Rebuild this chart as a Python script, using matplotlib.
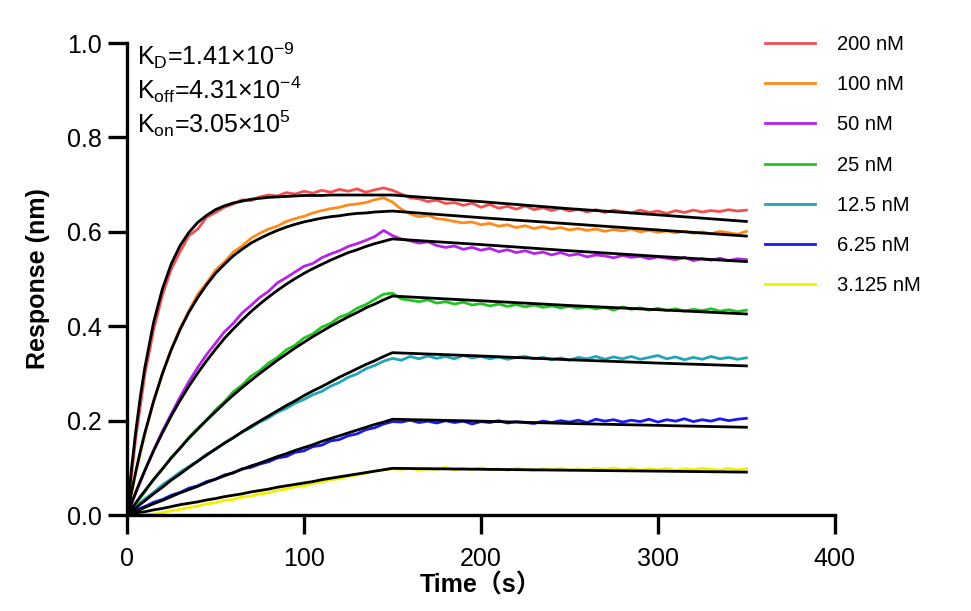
import numpy as np
import matplotlib.pyplot as plt

plt.rcParams['font.family'] = ['Liberation Sans', 'Noto Sans CJK SC', 'DejaVu Sans']
plt.rcParams['mathtext.fontset'] = 'custom'
plt.rcParams['mathtext.rm'] = 'Liberation Sans'

# measured curves, one point every 5 s
t_data = np.arange(0, 351, 5)

r_200 = [0.000, 0.165, 0.296, 0.392, 0.466, 0.521, 0.558, 0.592, 0.606, 0.631, 0.641, 0.652, 0.659, 0.668, 0.666,
         0.674, 0.678, 0.676, 0.683, 0.680, 0.686, 0.682, 0.688, 0.684, 0.690, 0.686, 0.691, 0.684, 0.689, 0.693,
         0.688, 0.680, 0.672, 0.670, 0.664, 0.667, 0.660, 0.662, 0.656, 0.661, 0.652, 0.658, 0.650, 0.654, 0.648,
         0.655, 0.647, 0.651, 0.645, 0.650, 0.644, 0.648, 0.642, 0.647, 0.641, 0.646, 0.643, 0.640, 0.646, 0.641,
         0.644, 0.639, 0.645, 0.641, 0.646, 0.642, 0.645, 0.643, 0.647, 0.644, 0.646]
r_100 = [0.000, 0.090, 0.170, 0.240, 0.298, 0.352, 0.396, 0.433, 0.468, 0.492, 0.519, 0.536, 0.557, 0.570, 0.586,
         0.597, 0.606, 0.612, 0.622, 0.628, 0.633, 0.640, 0.645, 0.649, 0.652, 0.657, 0.659, 0.662, 0.668, 0.672,
         0.663, 0.648, 0.638, 0.632, 0.635, 0.628, 0.626, 0.622, 0.619, 0.621, 0.615, 0.618, 0.612, 0.615, 0.609,
         0.613, 0.607, 0.611, 0.606, 0.609, 0.604, 0.607, 0.603, 0.606, 0.601, 0.605, 0.602, 0.606, 0.600, 0.603,
         0.599, 0.602, 0.598, 0.601, 0.597, 0.600, 0.596, 0.601, 0.598, 0.595, 0.601]
r_50 = [0.000, 0.047, 0.093, 0.137, 0.178, 0.214, 0.250, 0.283, 0.313, 0.340, 0.364, 0.388, 0.406, 0.428, 0.444,
        0.461, 0.474, 0.492, 0.503, 0.515, 0.527, 0.533, 0.545, 0.553, 0.560, 0.569, 0.575, 0.582, 0.590, 0.603,
        0.592, 0.585, 0.581, 0.576, 0.579, 0.571, 0.567, 0.570, 0.563, 0.567, 0.561, 0.565, 0.558, 0.562, 0.556,
        0.560, 0.554, 0.557, 0.551, 0.556, 0.550, 0.553, 0.547, 0.551, 0.549, 0.545, 0.550, 0.546, 0.548, 0.543,
        0.547, 0.544, 0.541, 0.546, 0.539, 0.543, 0.540, 0.544, 0.539, 0.543, 0.541]
r_25 = [0.000, 0.024, 0.049, 0.076, 0.097, 0.122, 0.141, 0.165, 0.184, 0.202, 0.223, 0.240, 0.261, 0.275, 0.294,
        0.306, 0.322, 0.334, 0.350, 0.360, 0.375, 0.384, 0.398, 0.406, 0.419, 0.426, 0.438, 0.446, 0.457, 0.468,
        0.470, 0.458, 0.455, 0.452, 0.456, 0.449, 0.452, 0.447, 0.451, 0.445, 0.448, 0.443, 0.447, 0.442, 0.446,
        0.441, 0.445, 0.440, 0.443, 0.439, 0.442, 0.438, 0.441, 0.437, 0.440, 0.434, 0.441, 0.436, 0.439, 0.434,
        0.438, 0.433, 0.437, 0.432, 0.436, 0.433, 0.437, 0.432, 0.435, 0.431, 0.434]
r_12 = [0.000, 0.018, 0.034, 0.048, 0.064, 0.077, 0.091, 0.103, 0.115, 0.129, 0.139, 0.153, 0.163, 0.176, 0.185,
        0.197, 0.206, 0.218, 0.226, 0.237, 0.245, 0.255, 0.262, 0.273, 0.281, 0.292, 0.299, 0.310, 0.317, 0.326,
        0.332, 0.328, 0.336, 0.331, 0.337, 0.332, 0.336, 0.331, 0.338, 0.333, 0.336, 0.331, 0.335, 0.330, 0.334,
        0.336, 0.331, 0.334, 0.329, 0.333, 0.328, 0.334, 0.331, 0.336, 0.330, 0.335, 0.331, 0.336, 0.330, 0.334,
        0.338, 0.331, 0.335, 0.329, 0.334, 0.330, 0.336, 0.331, 0.334, 0.330, 0.333]
r_6 = [0.000, 0.011, 0.018, 0.027, 0.033, 0.042, 0.048, 0.057, 0.062, 0.071, 0.076, 0.085, 0.089, 0.098, 0.101,
       0.108, 0.113, 0.121, 0.124, 0.133, 0.136, 0.145, 0.148, 0.157, 0.160, 0.168, 0.172, 0.181, 0.185, 0.193,
       0.198, 0.197, 0.201, 0.196, 0.199, 0.195, 0.200, 0.196, 0.199, 0.193, 0.198, 0.196, 0.200, 0.195, 0.198,
       0.196, 0.194, 0.199, 0.196, 0.200, 0.197, 0.201, 0.196, 0.203, 0.199, 0.202, 0.197, 0.201, 0.198, 0.203,
       0.197, 0.202, 0.199, 0.204, 0.198, 0.202, 0.199, 0.204, 0.200, 0.203, 0.205]
r_3 = [0.000, 0.000, 0.001, 0.002, 0.005, 0.009, 0.012, 0.016, 0.019, 0.024, 0.026, 0.031, 0.033, 0.038, 0.040,
       0.045, 0.047, 0.052, 0.055, 0.060, 0.062, 0.067, 0.070, 0.075, 0.077, 0.082, 0.085, 0.089, 0.093, 0.096,
       0.098, 0.097, 0.099, 0.096, 0.098, 0.097, 0.101, 0.096, 0.099, 0.097, 0.100, 0.096, 0.098, 0.095, 0.099,
       0.097, 0.094, 0.098, 0.096, 0.099, 0.095, 0.098, 0.096, 0.099, 0.097, 0.100, 0.096, 0.099, 0.095, 0.098,
       0.096, 0.099, 0.095, 0.098, 0.096, 0.099, 0.097, 0.095, 0.099, 0.096, 0.098]

# fitted curves
t_fit = [0, 2.5, 5, 7.5, 10, 15, 20, 25, 30, 35, 40, 45, 50, 55, 60, 65, 70, 75, 80, 85, 90, 95, 100,
         105, 110, 115, 120, 125, 130, 135, 140, 145, 150, 200, 250, 300, 350]
f_200 = [0, 0.097, 0.179, 0.250, 0.311, 0.408, 0.479, 0.532, 0.571, 0.599, 0.620, 0.635, 0.647, 0.655, 0.661,
         0.665, 0.669, 0.671, 0.673, 0.674, 0.675, 0.676, 0.677, 0.677, 0.677, 0.678, 0.678, 0.678, 0.678, 0.678,
         0.678, 0.678, 0.678, 0.664, 0.649, 0.636, 0.622]
f_100 = [0, 0.048, 0.093, 0.135, 0.173, 0.241, 0.300, 0.350, 0.393, 0.430, 0.461, 0.488, 0.512, 0.531, 0.549,
         0.563, 0.576, 0.586, 0.595, 0.603, 0.610, 0.616, 0.621, 0.625, 0.629, 0.632, 0.634, 0.637, 0.639, 0.640,
         0.642, 0.643, 0.644, 0.630, 0.617, 0.604, 0.591]
f_50 = [0, 0.025, 0.049, 0.072, 0.094, 0.136, 0.174, 0.210, 0.243, 0.273, 0.301, 0.327, 0.351, 0.374, 0.394,
        0.413, 0.431, 0.447, 0.462, 0.476, 0.489, 0.501, 0.512, 0.522, 0.531, 0.540, 0.548, 0.556, 0.562, 0.569,
        0.575, 0.580, 0.585, 0.573, 0.560, 0.548, 0.537]
f_25 = [0, 0.013, 0.026, 0.039, 0.051, 0.075, 0.098, 0.121, 0.142, 0.163, 0.182, 0.201, 0.219, 0.237, 0.254,
        0.270, 0.285, 0.300, 0.314, 0.328, 0.341, 0.354, 0.366, 0.378, 0.389, 0.400, 0.410, 0.420, 0.429, 0.439,
        0.447, 0.456, 0.464, 0.454, 0.444, 0.435, 0.426]
f_12 = [0, 0.008, 0.015, 0.023, 0.030, 0.045, 0.059, 0.074, 0.087, 0.101, 0.114, 0.127, 0.140, 0.152, 0.164,
        0.176, 0.188, 0.199, 0.210, 0.221, 0.232, 0.242, 0.253, 0.263, 0.272, 0.282, 0.292, 0.301, 0.310, 0.319,
        0.327, 0.336, 0.344, 0.337, 0.329, 0.322, 0.316]
f_6 = [0, 0.004, 0.008, 0.012, 0.016, 0.024, 0.031, 0.039, 0.047, 0.054, 0.061, 0.069, 0.076, 0.083, 0.090,
       0.097, 0.104, 0.110, 0.117, 0.124, 0.130, 0.137, 0.143, 0.149, 0.156, 0.162, 0.168, 0.174, 0.180, 0.186,
       0.192, 0.197, 0.203, 0.199, 0.194, 0.190, 0.186]
f_3 = [0, 0.002, 0.004, 0.006, 0.007, 0.011, 0.014, 0.018, 0.022, 0.025, 0.028, 0.032, 0.035, 0.039, 0.042,
       0.045, 0.049, 0.052, 0.055, 0.059, 0.062, 0.065, 0.068, 0.071, 0.075, 0.078, 0.081, 0.084, 0.087, 0.090,
       0.093, 0.096, 0.099, 0.097, 0.095, 0.093, 0.091]

labels = ['200 nM', '100 nM', '50 nM', '25 nM', '12.5 nM', '6.25 nM', '3.125 nM']
colors = ['#F25050', '#FF8A1C', '#B424E6', '#22C422', '#22A5B5', '#1818F0', '#F2F000']
data = [r_200, r_100, r_50, r_25, r_12, r_6, r_3]
fits = [f_200, f_100, f_50, f_25, f_12, f_6, f_3]

fig = plt.figure(figsize=(9.71, 6.11), dpi=100)
ax = fig.add_axes([0.1308, 0.157, 0.729, 0.7726])

for y, c, lab in zip(data, colors, labels):
    ax.plot(t_data, y, color=c, lw=2.0, label=lab)
for f in fits:
    ax.plot(t_fit, f, color='black', lw=2.0)

ax.set_xlim(0, 400)
ax.set_ylim(0, 1.0)
ax.set_xticks([0, 100, 200, 300, 400])
ax.set_yticks([0.0, 0.2, 0.4, 0.6, 0.8, 1.0])
ax.set_yticklabels(['0.0', '0.2', '0.4', '0.6', '0.8', '1.0'])
for s in ['top', 'right']:
    ax.spines[s].set_visible(False)
for s in ['left', 'bottom']:
    ax.spines[s].set_linewidth(2.4)
ax.tick_params(axis='both', length=14, width=2.4, labelsize=18, direction='out')
ax.tick_params(axis='x', pad=9)
ax.tick_params(axis='y', pad=4)

ax.set_xlabel('Time（s）', fontsize=18, fontweight='bold', labelpad=2)
ax.set_ylabel('Response (nm)', fontsize=18, fontweight='bold', labelpad=12)

ann = [r'K$_\mathregular{D}$=1.41×10$^\mathregular{-9}$',
       r'K$_\mathregular{off}$=4.31×10$^\mathregular{-4}$',
       r'K$_\mathregular{on}$=3.05×10$^\mathregular{5}$']
for i, s in enumerate(ann):
    ax.text(0.014, 0.954 - i * 0.0725, s, transform=ax.transAxes, fontsize=18, va='baseline')

fig.legend(loc='upper left', bbox_to_anchor=(0.777, 0.959), frameon=False, fontsize=14.5,
           handlelength=2.5, handletextpad=1.1, labelspacing=1.05, borderpad=0)

plt.savefig('out.png', dpi=100)
